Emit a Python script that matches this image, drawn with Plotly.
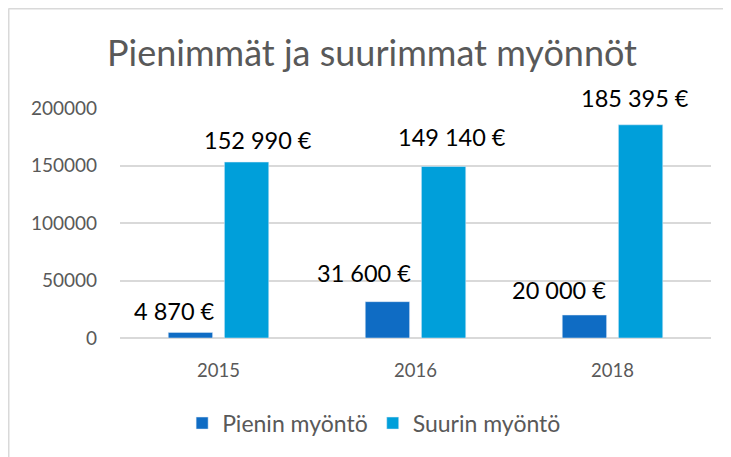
import plotly.graph_objects as go

years = ["2015", "2016", "2018"]
pienin = [4870, 31600, 20000]
suurin = [152990, 149140, 185395]
pienin_labels = ["4 870 €", "31 600 €", "20 000 €"]
suurin_labels = ["152 990 €", "149 140 €", "185 395 €"]

dark_blue = "#0f6cc4"
light_blue = "#009fda"
grey_text = "#595959"

fig = go.Figure()
fig.add_trace(go.Bar(x=years, y=pienin, name="Pienin myöntö", marker_color=dark_blue))
fig.add_trace(go.Bar(x=years, y=suurin, name="Suurin myöntö", marker_color=light_blue))

# value labels on top of all bars; pixel nudges copy the hand-placed Excel labels
# category axis: annotation x is the category index
dark_nudge = [(-44, 5), (-52, 13), (-54, 9)]
light_nudge = [(39, 6), (36, 13), (22, 11)]
for i, (v, t) in enumerate(zip(pienin, pienin_labels)):
    dx, dy = dark_nudge[i]
    fig.add_annotation(x=i, y=v, text=t, showarrow=False, xanchor="center", yanchor="bottom",
                       xshift=dx, yshift=dy, font=dict(size=23.5, color="black"))
for i, (v, t) in enumerate(zip(suurin, suurin_labels)):
    dx, dy = light_nudge[i]
    fig.add_annotation(x=i, y=v, text=t, showarrow=False, xanchor="center", yanchor="bottom",
                       xshift=dx, yshift=dy, font=dict(size=23.5, color="black"))

# light grey frame of the chart box (only top and left edges visible)
bx = (0.5 - 112) / 591
by = 1 + (100 - 0.5) / 230
fig.add_shape(type="line", xref="paper", yref="paper", x0=bx, x1=bx, y0=-1, y1=by,
              line=dict(color="#d9d9d9", width=2))
fig.add_shape(type="line", xref="paper", yref="paper", x0=bx, x1=1.2, y0=by, y1=by,
              line=dict(color="#d9d9d9", width=2))

fig.update_layout(
    width=731, height=457,
    margin=dict(l=112, r=28, t=100, b=127),
    paper_bgcolor="white", plot_bgcolor="white",
    font=dict(family="Lato, sans-serif", color=grey_text),
    title=dict(text="Pienimmät ja suurimmat myönnöt", x=0.498, xanchor="center",
               y=0.901, yanchor="middle",
               font=dict(size=36, color=grey_text, family="Lato, sans-serif")),
    barmode="group", bargap=0.43, bargroupgap=0.21,
    showlegend=True,
    legend=dict(orientation="h", x=0.43, xanchor="center", y=-0.37, yanchor="middle",
                font=dict(size=23, color=grey_text), itemwidth=30),
    xaxis=dict(type="category", range=[-0.5, 2.5], showgrid=False, showline=False, ticks="",
               tickfont=dict(size=18.5), ticklabelstandoff=19),
    yaxis=dict(range=[0, 200000], tickvals=[0, 50000, 100000, 150000, 200000],
               ticktext=["0", "50000", "100000", "150000", "200000"],
               showgrid=True, gridcolor="#d9d9d9", gridwidth=1.5,
               zeroline=True, zerolinecolor="#d9d9d9", zerolinewidth=2,
               tickfont=dict(size=19), ticklabelstandoff=22),
)

fig.write_html("out.html")
